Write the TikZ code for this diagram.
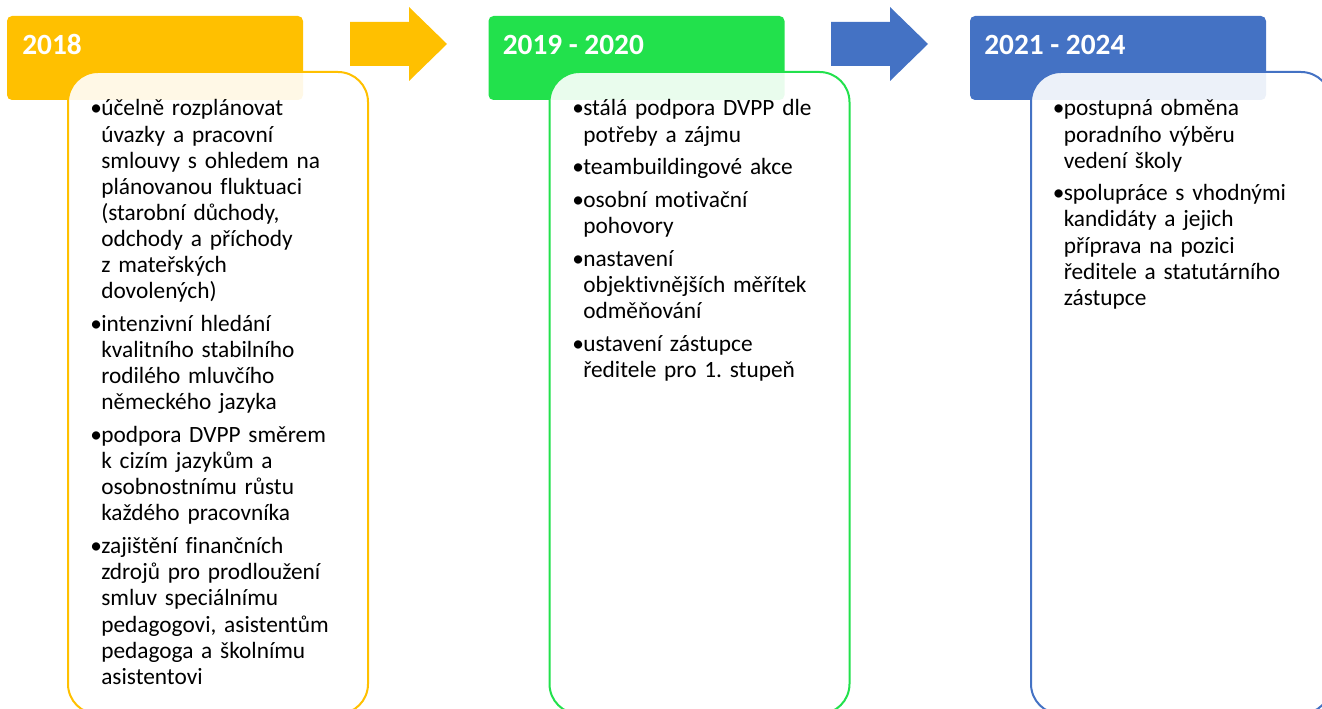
\documentclass[tikz,border=0pt]{standalone}
\usepackage{fontspec}
\setmainfont{Carlito}[Ligatures=NoCommon]
\usepackage{tikz}
\usetikzlibrary{positioning,calc}
\definecolor{yel}{HTML}{FFC000}
\definecolor{grn}{HTML}{22E14C}
\definecolor{blu}{HTML}{4472C4}
\newcommand{\bul}[1]{\par\hangindent=8.25pt\hangafter=1\noindent\rule{0pt}{15pt}\makebox[8.25pt][l]{\textbullet}#1\par}

\begin{document}
\begin{tikzpicture}[x=0.75pt,y=0.75pt,yscale=-1,xscale=1]
  \tikzstyle{header} = [rectangle,rounded corners=3.75pt,minimum width=222pt,minimum height=63pt,inner sep=0pt,outer sep=0pt,anchor=north west]
  \tikzstyle{card} = [rectangle,rounded corners=22.5pt,line width=1.5pt,fill=white,fill opacity=0.9,minimum width=225pt,minimum height=481.5pt,inner sep=0pt,outer sep=0pt,anchor=north west]
  \tikzstyle{year} = [anchor=base west,inner sep=0pt,text=white,font=\fontsize{22}{26}\selectfont\bfseries]
  \tikzstyle{body} = [anchor=north west,inner sep=0pt,text width=205pt,font=\fontsize{17.5}{19.6}\selectfont\frenchspacing\raggedright\setlength{\parskip}{4.9pt}]
  \useasboundingbox (0,0) rectangle (1322,709);
  %Draw the headers
  \node [header,fill=yel] (h1) at (7,16) {};
  \node [header,fill=grn] (h2) at (488.5,16) {};
  \node [header,fill=blu] (h3) at (970,16) {};
  \node [year] (y1) at ($(h1.north west)+(15,39)$) {2018};
  \node [year] (y2) at ($(h2.north west)+(14,39)$) {2019 - 2020};
  \node [year] (y3) at ($(h3.north west)+(14,39)$) {2021 - 2024};
  %Draw the cards
  \node [card,draw=yel] (c1) at (68,72) {};
  \node [card,draw=grn] (c2) at (549.5,72) {};
  \node [card,draw=blu] (c3) at (1031,72) {};
  %Draw the arrows
  \fill [yel] (350,22) -- (409,22) -- (409,7) -- (447,44) -- (409,81) -- (409,66) -- (350,66) -- cycle;
  \fill [blu] (831,22) -- (890,22) -- (890,7) -- (928,44) -- (890,81) -- (890,66) -- (831,66) -- cycle;
  % Fill the cards
  \node [body] (t1) at ($(c1.north west)+(22,11)$) {%
    \bul{účelně rozplánovat\newline úvazky a pracovní\newline smlouvy s ohledem na\newline plánovanou fluktuaci\newline (starobní důchody,\newline odchody a příchody\newline z mateřských\newline dovolených)}
    \bul{intenzivní hledání\newline kvalitního stabilního\newline rodilého mluvčího\newline německého jazyka}
    \bul{podpora DVPP směrem\newline k cizím jazykům a\newline osobnostnímu růstu\newline každého pracovníka}
    \bul{zajištění finančních\newline zdrojů pro prodloužení\newline smluv speciálnímu\newline pedagogovi, asistentům\newline pedagoga a školnímu\newline asistentovi}};
  \node [body] (t2) at ($(c2.north west)+(22.5,11)$) {%
    \bul{stálá podpora DVPP dle\newline potřeby a zájmu}
    \bul{teambuildingové akce}
    \bul{osobní motivační\newline pohovory}
    \bul{nastavení\newline objektivnějších měřítek\newline odměňování}
    \bul{ustavení zástupce\newline ředitele pro 1. stupeň}};
  \node [body] (t3) at ($(c3.north west)+(21.5,11)$) {%
    \bul{postupná obměna\newline poradního výběru\newline vedení školy}
    \bul{spolupráce s vhodnými\newline kandidáty a jejich\newline příprava na pozici\newline ředitele a statutárního\newline zástupce}};
\end{tikzpicture}
\end{document}
